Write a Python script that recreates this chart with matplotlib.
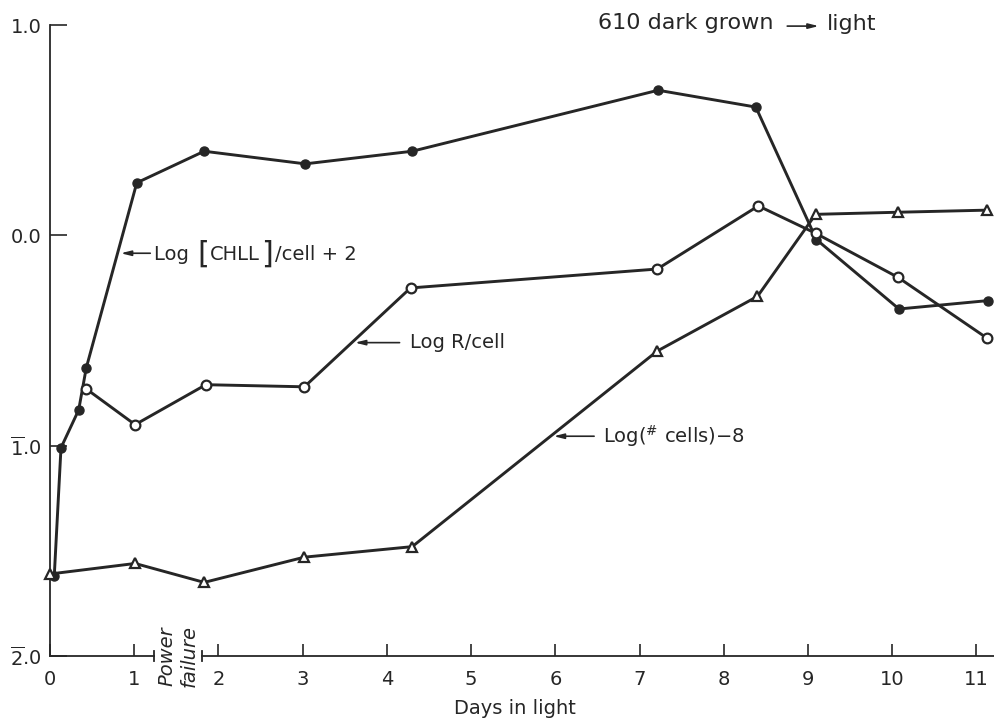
import matplotlib
matplotlib.use("Agg")
import matplotlib.pyplot as plt
from matplotlib.offsetbox import TextArea, HPacker, AnnotationBbox

# ---- data ----
days_chll = [0.05, 0.13, 0.34, 0.43, 1.03, 1.83, 3.03, 4.30, 7.22, 8.38, 9.10, 10.08, 11.14]
log_chll = [-1.62, -1.01, -0.83, -0.63, 0.25, 0.40, 0.34, 0.40, 0.69, 0.61, -0.02, -0.35, -0.31]

days_r = [0.43, 1.01, 1.85, 3.02, 4.28, 7.21, 8.41, 9.09, 10.07, 11.13]
log_r = [-0.73, -0.90, -0.71, -0.72, -0.25, -0.16, 0.14, 0.01, -0.20, -0.49]

days_cells = [0.0, 1.01, 1.83, 3.02, 4.30, 7.21, 8.40, 9.09, 10.07, 11.13]
log_cells = [-1.61, -1.56, -1.65, -1.53, -1.48, -0.55, -0.29, 0.10, 0.11, 0.12]

x_ticks = list(range(12))
x_tick_labels = [str(t) for t in x_ticks]
y_ticks = [-2, -1, 0, 1]
y_tick_labels = [r"$\overline{2}$.0", r"$\overline{1}$.0", "0.0", "1.0"]

title_left = "610 dark grown"
title_right = "light"
x_label = "Days in light"
break_note = "Power\nfailure"

# ---- style ----
INK = "#262626"
plt.rcParams["font.family"] = ["DejaVu Sans"]
plt.rcParams["mathtext.fontset"] = "dejavusans"

fig = plt.figure(figsize=(9.95, 7.26), dpi=100)
ax = fig.add_axes([0.0503, 0.0964, 0.9497, 0.8691])
ax.set_xlim(0, 11.22)
ax.set_ylim(-2, 1)

line_kw = dict(color=INK, lw=2.1, clip_on=False, zorder=3)
ax.plot(days_chll, log_chll, marker="o", ms=6.5, mfc=INK, mec=INK, **line_kw)
ax.plot(days_r, log_r, marker="o", ms=7, mfc="white", mec=INK, mew=1.6, **line_kw)
ax.plot(days_cells, log_cells, marker="^", ms=7.5, mfc="white", mec=INK, mew=1.6, **line_kw)

# axes / spines
for s in ["top", "right", "bottom"]:
    ax.spines[s].set_visible(False)
ax.spines["left"].set_color(INK)
ax.spines["left"].set_linewidth(1.3)

# broken x axis
brk_a, brk_b = 1.23, 1.81
ax.plot([0, brk_a], [-2, -2], color=INK, lw=1.3, clip_on=False, zorder=2)
ax.plot([brk_b, 11.22], [-2, -2], color=INK, lw=1.3, clip_on=False, zorder=2)
for b in (brk_a, brk_b):
    ax.plot([b, b], [-2.025, -1.975], color=INK, lw=1.3, clip_on=False, zorder=2)
ax.text((brk_a + brk_b) / 2, -2.0, break_note, rotation=90, style="italic",
        ha="center", va="center", fontsize=14, color=INK, linespacing=1.2,
        clip_on=False)

ax.set_xticks(x_ticks)
ax.set_xticklabels(x_tick_labels)
ax.set_yticks(y_ticks)
ax.set_yticklabels(y_tick_labels)
ax.tick_params(axis="x", direction="in", length=9, width=1.2, colors=INK,
               labelsize=14, pad=10)
ax.tick_params(axis="y", direction="in", length=12, width=1.2, colors=INK,
               labelsize=14, pad=6)

ax.set_xlabel(x_label, fontsize=14, color=INK)
ax.xaxis.set_label_coords(0.492, -0.068)

# title
ax.text(6.51, 1.01, title_left, fontsize=16, color=INK, ha="left", va="center",
        clip_on=False)
ax.text(9.22, 1.005, title_right, fontsize=16, color=INK, ha="left", va="center",
        clip_on=False)
ax.annotate("", xy=(9.16, 0.995), xytext=(8.72, 0.995),
            arrowprops=dict(arrowstyle="-|>,head_length=0.6,head_width=0.15",
                            color=INK, lw=1.2), annotation_clip=False)

arrow_kw = dict(arrowstyle="-|>,head_length=0.6,head_width=0.15", color=INK, lw=1.2,
                shrinkA=0, shrinkB=0)

# CHLL label with tall brackets
fs = 14
parts = [
    TextArea("Log ", textprops=dict(fontsize=fs, color=INK)),
    TextArea("[", textprops=dict(fontsize=22, color=INK)),
    TextArea("CHLL", textprops=dict(fontsize=fs, color=INK)),
    TextArea("]", textprops=dict(fontsize=22, color=INK)),
    TextArea("/cell + 2", textprops=dict(fontsize=fs, color=INK)),
]
box = HPacker(children=parts, align="center", pad=0, sep=1)
ab = AnnotationBbox(box, (1.24, -0.09), xycoords="data", box_alignment=(0, 0.5),
                    frameon=False, pad=0)
ax.add_artist(ab)
ax.annotate("", xy=(0.84, -0.085), xytext=(1.19, -0.085), arrowprops=arrow_kw)

# R/cell
ax.text(4.27, -0.51, "Log R/cell", fontsize=fs, color=INK, ha="left", va="center")
ax.annotate("", xy=(3.62, -0.51), xytext=(4.15, -0.51), arrowprops=arrow_kw)

# cells
ax.text(6.56, -0.955, r"Log($^{\#}$ cells)$-$8", fontsize=fs, color=INK,
        ha="left", va="center")
ax.annotate("", xy=(5.98, -0.955), xytext=(6.46, -0.955), arrowprops=arrow_kw)

fig.savefig("out.png", dpi=100)
